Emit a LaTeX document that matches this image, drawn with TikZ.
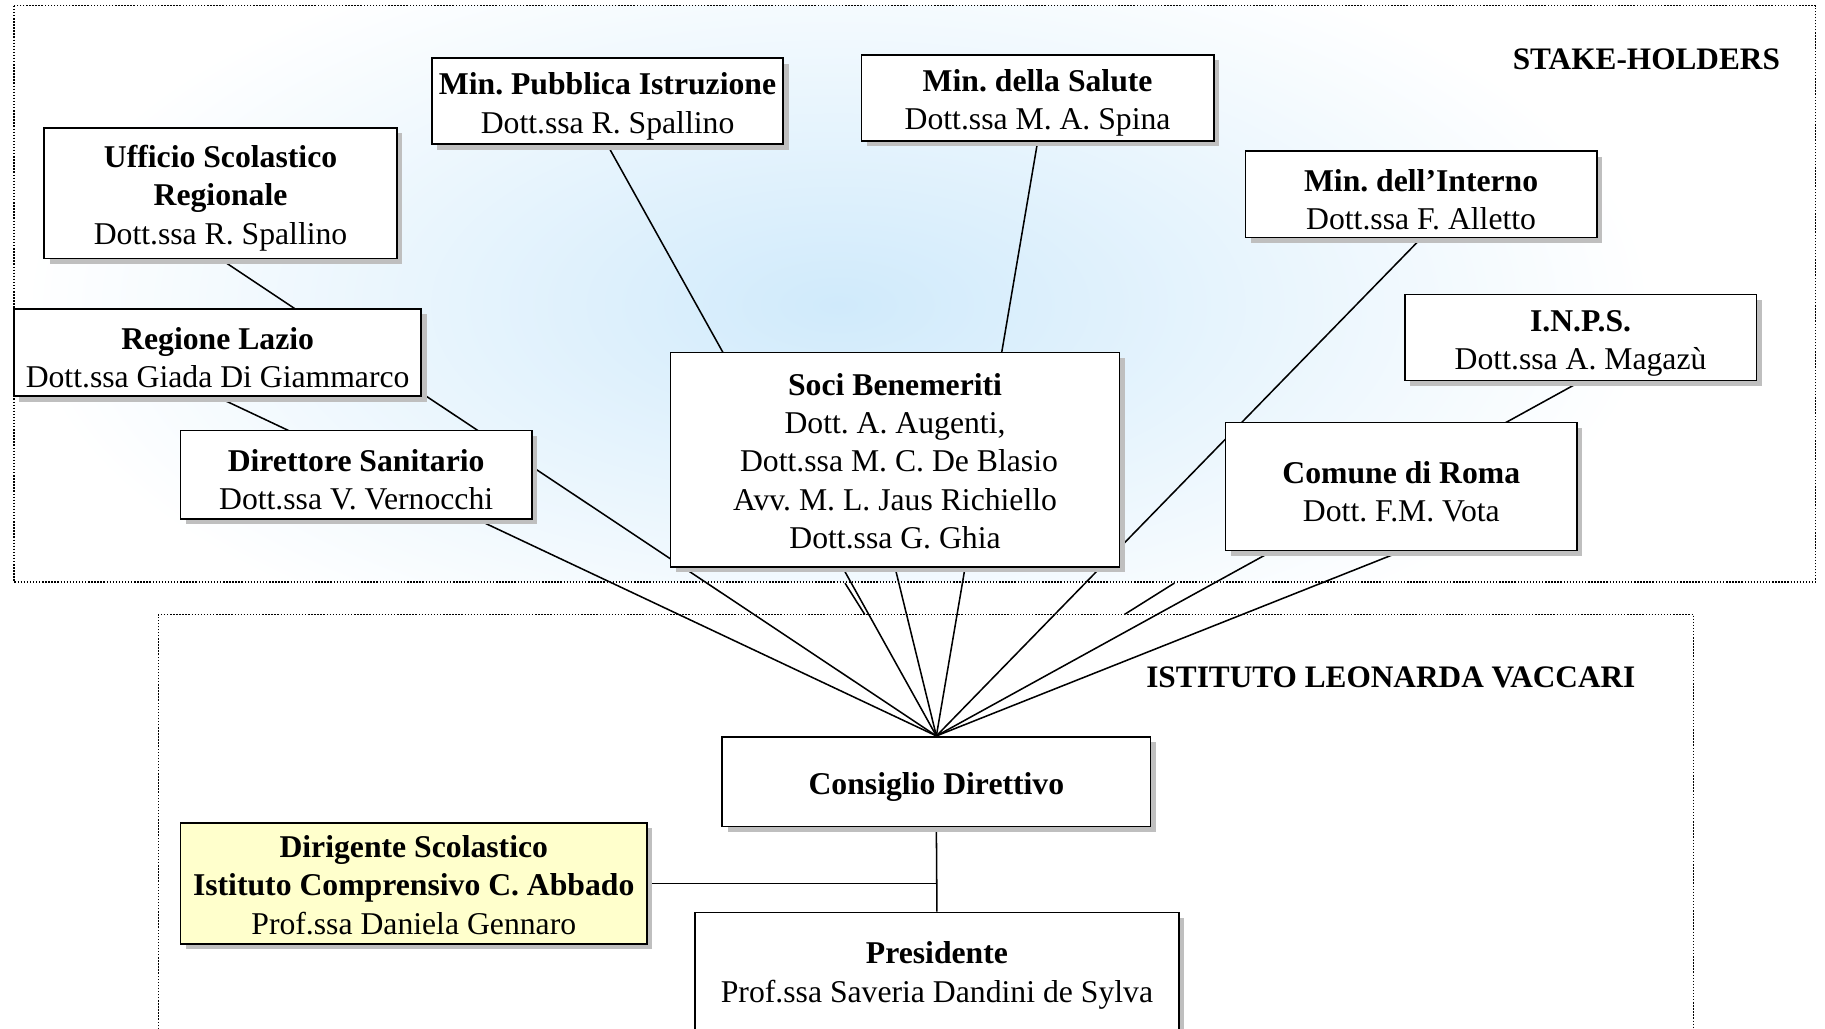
\documentclass[tikz,border=0pt]{standalone}
\usepackage{fontspec}
\setmainfont{Liberation Serif}
\usetikzlibrary{positioning,shadows,backgrounds}
\frenchspacing

\definecolor{skyfade}{RGB}{208,234,251}
\definecolor{paleyellow}{RGB}{255,255,204}

\begin{document}
\begin{tikzpicture}[x=0.02cm,y=-0.02cm]
  \tikzset{
    lift/.store in=\boxlift,
    box/.style={draw, line width=0.8pt, fill=white, align=flush center,
      inner xsep=0pt, inner ysep=2pt, text width=#1, lift=15.7pt,
      font=\fontsize{15.5}{18.7}\selectfont,
      execute at begin node=\rule{0pt}{\boxlift},
      drop shadow={shadow xshift=2.6pt, shadow yshift=-2.6pt, fill=black!25, opacity=1}},
    title/.style={font=\fontsize{15.3}{18}\selectfont\bfseries, inner sep=0pt},
    frame/.style={line width=0.6pt, dash pattern=on 0.7pt off 0.8pt},
    link/.style={line width=0.75pt},
  }
  \useasboundingbox (0,0) rectangle (1568,884);

  % stake-holders
  \node (usr) at (189.5,166) [box=6.06cm, minimum height=2.24cm]
    {\textbf{Ufficio Scolastico}\\\textbf{Regionale}\\Dott.ssa R. Spallino};
  \node (mpi) at (522,87) [box=6.04cm, minimum height=1.48cm]
    {\textbf{Min. Pubblica Istruzione}\\Dott.ssa R. Spallino};
  \node (msal) at (891.5,84) [box=6.06cm, minimum height=1.48cm]
    {\textbf{Min. della Salute}\\Dott.ssa M. A. Spina};
  \node (mint) at (1221,167) [box=6.04cm, minimum height=1.48cm]
    {\textbf{Min. dell'Interno}\\Dott.ssa F. Alletto};
  \node (inps) at (1358,290) [box=6.04cm, minimum height=1.48cm]
    {\textbf{I.N.P.S.}\\Dott.ssa A. Magazù};
  \node (lazio) at (187,303) [box=7.0cm, minimum height=1.5cm]
    {\textbf{Regione Lazio}\\Dott.ssa Giada Di Giammarco};
  \node (dirsan) at (306,408) [box=6.04cm, minimum height=1.52cm]
    {\textbf{Direttore Sanitario}\\Dott.ssa V. Vernocchi};
  \node (soci) at (769,395) [box=7.72cm, lift=12pt, minimum height=3.68cm]
    {\textbf{Soci Benemeriti}\\Dott. A. Augenti,\\\ Dott.ssa M. C. De Blasio\\Avv. M. L. Jaus Richiello\\Dott.ssa G. Ghia};
  \node (roma) at (1204,418) [box=6.04cm, minimum height=2.2cm]
    {\textbf{Comune di Roma}\\Dott. F.M. Vota};
  \node (stk) at (1414.5,51) [title] {STAKE-HOLDERS};

  % istituto
  \node (cons) at (804.5,671.5) [box=7.36cm, minimum height=1.54cm]
    {\textbf{Consiglio Direttivo}};
  \node (dir) at (355.5,759) [box=8.02cm, lift=12.5pt, fill=paleyellow, minimum height=2.08cm]
    {\textbf{Dirigente Scolastico}\\\textbf{Istituto Comprensivo C. Abbado}\\Prof.ssa Daniela Gennaro};
  \node (pres) at (805,836.5) [box=8.32cm, lift=12.5pt, minimum height=2.1cm]
    {\textbf{Presidente}\\Prof.ssa Saveria Dandini de Sylva};
  \node (ist) at (1195,582) [title] {ISTITUTO LEONARDA VACCARI};

  \coordinate (s1a) at (726,501);
  \coordinate (s1b) at (743,528);
  \coordinate (s2a) at (1009,501);
  \coordinate (s2b) at (966,528);

  \begin{pgfonlayer}{background}
    \begin{scope}
      \clip (12,5) rectangle (1560,500);
      \shade[inner color=skyfade, outer color=white] (720,262) ellipse (14cm and 6.6cm);
    \end{scope}
    \draw[frame] (12,5) rectangle (1560,500);
    \draw[frame] (136,900) -- (136,528) -- (1455,528) -- (1455,900);
    \foreach \n in {usr,lazio,mpi,msal,mint,inps,roma,soci}
      \draw[link] (\n.south) -- (cons.north);
    \draw[link] (s1a) -- (s1b);
    \draw[link] (s2a) -- (s2b);
    \draw[link] (cons.south) -- (pres.north);
    \draw[link] (dir.east) -- (dir.east -| cons.south);
  \end{pgfonlayer}
\end{tikzpicture}
\end{document}
